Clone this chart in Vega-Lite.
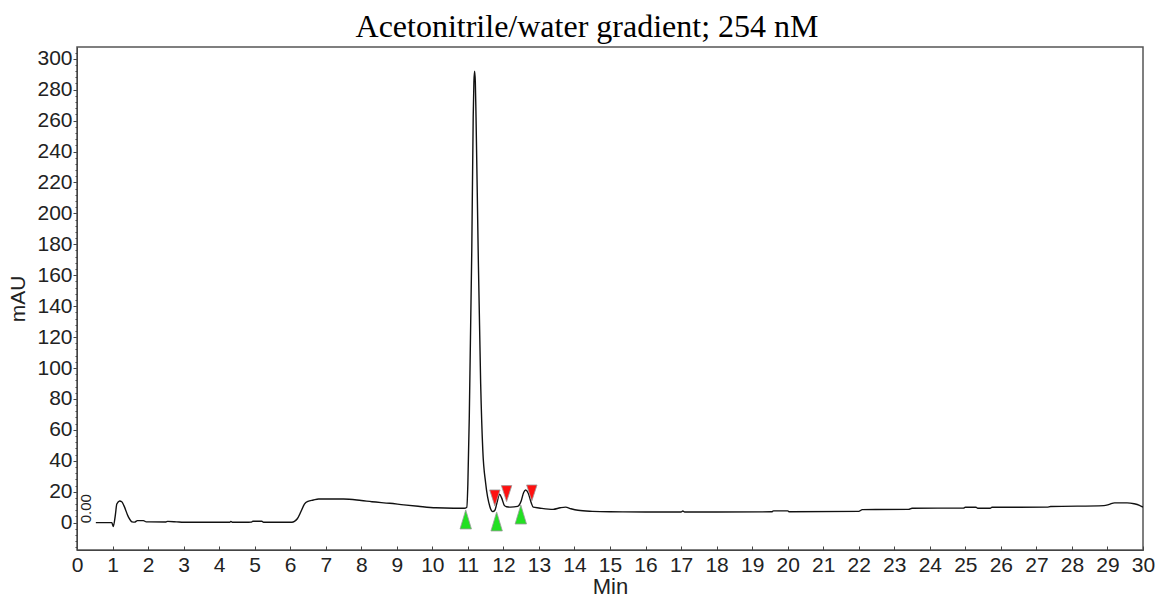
{
  "$schema": "https://vega.github.io/schema/vega-lite/v6.json",
  "autosize": {"type": "none"},
  "padding": {"left": 77, "top": 47, "right": 19, "bottom": 50},
  "width": 1066,
  "height": 503,
  "background": "white",
  "config": {
    "view": {"stroke": "#555", "strokeWidth": 1.5},
    "font": "Liberation Sans",
    "axis": {"grid": false, "domainColor": "#444", "tickColor": "#444", "labelColor": "#222", "titleColor": "#222", "labelFont": "Liberation Sans", "titleFont": "Liberation Sans", "titleFontWeight": "normal"}
  },
  "title": {
    "text": "Acetonitrile/water gradient; 254 nM",
    "font": "Liberation Serif",
    "fontSize": 32,
    "fontWeight": "normal",
    "color": "#000",
    "anchor": "middle",
    "dx": -23,
    "offset": 3
  },
  "datasets": {
    "trace": [
      {"t": 0.53, "v": 0}, {"t": 0.98, "v": 0}, {"t": 1.02, "v": -2.5}, {"t": 1.08, "v": 5},
      {"t": 1.12, "v": 12}, {"t": 1.2, "v": 14}, {"t": 1.26, "v": 13.5}, {"t": 1.32, "v": 11},
      {"t": 1.44, "v": 4}, {"t": 1.55, "v": 0.5}, {"t": 1.62, "v": 0.3}, {"t": 1.7, "v": 1.3},
      {"t": 1.87, "v": 1.3}, {"t": 1.95, "v": 0.5}, {"t": 2.5, "v": 0.4}, {"t": 2.55, "v": 0.8},
      {"t": 2.8, "v": 0.5}, {"t": 3.0, "v": 0.2}, {"t": 4.3, "v": 0.2}, {"t": 4.33, "v": 0.8},
      {"t": 4.37, "v": 0.2}, {"t": 4.9, "v": 0.3}, {"t": 4.95, "v": 0.9}, {"t": 5.2, "v": 0.9},
      {"t": 5.25, "v": 0.2}, {"t": 6.05, "v": 0.2}, {"t": 6.12, "v": 0.8}, {"t": 6.2, "v": 2.5},
      {"t": 6.3, "v": 7}, {"t": 6.4, "v": 12}, {"t": 6.5, "v": 13.8}, {"t": 6.65, "v": 14.6},
      {"t": 6.8, "v": 15.3}, {"t": 7.5, "v": 15.3}, {"t": 8.0, "v": 14.3}, {"t": 8.3, "v": 13.5},
      {"t": 8.8, "v": 12.5}, {"t": 9.2, "v": 11.5}, {"t": 9.6, "v": 10.6}, {"t": 10.1, "v": 9.6},
      {"t": 10.6, "v": 9.3}, {"t": 10.9, "v": 9.3}, {"t": 10.97, "v": 10}, {"t": 11.0, "v": 25},
      {"t": 11.04, "v": 68.5}, {"t": 11.11, "v": 176}, {"t": 11.15, "v": 262}, {"t": 11.17, "v": 285},
      {"t": 11.19, "v": 292}, {"t": 11.21, "v": 285}, {"t": 11.23, "v": 262}, {"t": 11.29, "v": 176},
      {"t": 11.36, "v": 90}, {"t": 11.42, "v": 47}, {"t": 11.5, "v": 25.6}, {"t": 11.62, "v": 10.3},
      {"t": 11.7, "v": 7.1}, {"t": 11.76, "v": 8}, {"t": 11.82, "v": 13}, {"t": 11.89, "v": 18.4},
      {"t": 11.95, "v": 16}, {"t": 12.03, "v": 11}, {"t": 12.09, "v": 10.3}, {"t": 12.2, "v": 10},
      {"t": 12.4, "v": 10.5}, {"t": 12.5, "v": 14}, {"t": 12.57, "v": 19.5}, {"t": 12.63, "v": 21.1},
      {"t": 12.7, "v": 19}, {"t": 12.78, "v": 13}, {"t": 12.84, "v": 10}, {"t": 13.0, "v": 9.5},
      {"t": 13.4, "v": 8.6}, {"t": 13.6, "v": 9.6}, {"t": 13.75, "v": 10}, {"t": 13.9, "v": 9},
      {"t": 14.1, "v": 8}, {"t": 14.5, "v": 7.3}, {"t": 15.0, "v": 7.0}, {"t": 16.0, "v": 6.9},
      {"t": 17.0, "v": 6.9}, {"t": 17.05, "v": 7.5}, {"t": 17.1, "v": 6.9}, {"t": 18.0, "v": 6.9},
      {"t": 19.55, "v": 7.0}, {"t": 19.6, "v": 7.6}, {"t": 20.0, "v": 7.6}, {"t": 20.05, "v": 7.0},
      {"t": 22.0, "v": 7.3}, {"t": 22.1, "v": 8.4}, {"t": 23.4, "v": 8.6}, {"t": 23.5, "v": 9.3},
      {"t": 24.95, "v": 9.4}, {"t": 25.0, "v": 9.9}, {"t": 25.3, "v": 9.9}, {"t": 25.35, "v": 9.3},
      {"t": 25.7, "v": 9.3}, {"t": 25.75, "v": 9.9}, {"t": 27.3, "v": 10.0}, {"t": 27.4, "v": 10.4},
      {"t": 28.9, "v": 11}, {"t": 29.05, "v": 11.8}, {"t": 29.2, "v": 12.8}, {"t": 29.55, "v": 12.8},
      {"t": 29.75, "v": 12.2}, {"t": 29.9, "v": 11.2}, {"t": 30.0, "v": 10}
    ],
    "starts": [
      {"t": 10.94, "v": 8.2}, {"t": 11.81, "v": 6.9}, {"t": 12.49, "v": 11.4}
    ],
    "ends": [
      {"t": 11.76, "v": 10.8}, {"t": 12.09, "v": 13.6}, {"t": 12.8, "v": 14}
    ],
    "notes": [
      {"t": 0.24, "v": 9, "label": "0.00"}
    ]
  },
  "encoding": {
    "x": {"field": "t", "type": "quantitative", "scale": {"domain": [0, 30], "nice": false, "zero": false},
      "axis": {"title": "Min", "values": [0,1,2,3,4,5,6,7,8,9,10,11,12,13,14,15,16,17,18,19,20,21,22,23,24,25,26,27,28,29,30],
        "labelFontSize": 21, "titleFontSize": 22, "tickSize": -4, "labelPadding": 8, "titlePadding": 1, "labelFlush": false, "labelOverlap": false, "labelBound": false}}
  },
  "layer": [
    {
      "data": {"name": "trace"},
      "mark": {"type": "line", "color": "#111", "strokeWidth": 1.4, "interpolate": "monotone", "clip": true},
      "encoding": {
        "y": {"field": "v", "type": "quantitative", "scale": {"domain": [-17.7, 307.6], "nice": false, "zero": false},
          "axis": {"title": "mAU", "orient": "left", "values": [0,20,40,60,80,100,120,140,160,180,200,220,240,260,280,300],
            "labelFontSize": 21, "titleFontSize": 21, "tickSize": 4, "labelPadding": 1, "titlePadding": 8, "labelOverlap": false, "labelFlush": false}}
      }
    },
    {
      "data": {"name": "starts"},
      "mark": {"type": "point", "shape": "M0,0L0.6,2L-0.6,2Z", "size": 361, "filled": true, "fill": "#22e022", "stroke": "#9a9a9a", "strokeWidth": 0.8, "opacity": 1},
      "encoding": {
        "y": {"field": "v", "type": "quantitative",
          "axis": {"orient": "left", "title": null, "labels": false, "domain": false, "tickSize": 2,
            "values": [-16,-12,-8,-4,0,4,8,12,16,20,24,28,32,36,40,44,48,52,56,60,64,68,72,76,80,84,88,92,96,100,104,108,112,116,120,124,128,132,136,140,144,148,152,156,160,164,168,172,176,180,184,188,192,196,200,204,208,212,216,220,224,228,232,236,240,244,248,252,256,260,264,268,272,276,280,284,288,292,296,300,304]}}
      }
    },
    {
      "data": {"name": "ends"},
      "mark": {"type": "point", "shape": "M0,0L0.65,-2L-0.65,-2Z", "size": 256, "filled": true, "fill": "#ff1010", "stroke": "#9a9a9a", "strokeWidth": 0.8, "opacity": 1},
      "encoding": {
        "y": {"field": "v", "type": "quantitative", "axis": null}
      }
    },
    {
      "data": {"name": "notes"},
      "mark": {"type": "text", "angle": 270, "fontSize": 15, "font": "Liberation Sans", "color": "#222", "align": "center", "baseline": "middle"},
      "encoding": {
        "y": {"field": "v", "type": "quantitative", "axis": null},
        "text": {"field": "label"}
      }
    }
  ],
  "resolve": {"axis": {"y": "independent"}}
}
